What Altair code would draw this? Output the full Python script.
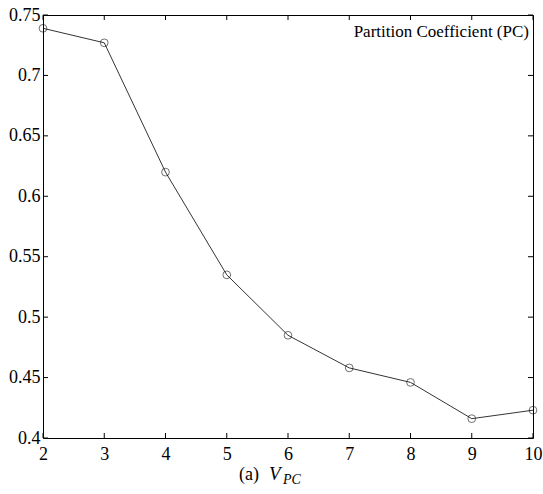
import altair as alt
import pandas as pd

clusters = [2, 3, 4, 5, 6, 7, 8, 9, 10]
pc_values = [0.739, 0.727, 0.620, 0.535, 0.485, 0.458, 0.446, 0.416, 0.423]
x_ticks = [2, 3, 4, 5, 6, 7, 8, 9, 10]
y_ticks = [0.4, 0.45, 0.5, 0.55, 0.6, 0.65, 0.7, 0.75]

W, H = 490, 423
FONT = "Times New Roman"

df = pd.DataFrame({"c": clusters, "pc": pc_values})
xt = pd.DataFrame({"t": x_ticks})
yt = pd.DataFrame({"t": y_ticks})

xs = alt.Scale(domain=[2, 10], nice=False)
ys = alt.Scale(domain=[0.4, 0.75], nice=False)

base = alt.Chart(df).encode(
    x=alt.X("c:Q", scale=xs,
            axis=alt.Axis(values=x_ticks, title=None, ticks=False, domain=False, grid=False,
                          format="d", labelFont=FONT, labelFontSize=18, labelColor="black",
                          labelFlush=False, labelPadding=7, labelOverlap=False)),
    y=alt.Y("pc:Q", scale=ys,
            axis=alt.Axis(values=y_ticks, title=None, ticks=False, domain=False, grid=False,
                          format="~g", labelFont=FONT, labelFontSize=18, labelColor="black",
                          labelFlush=False, labelPadding=3, labelOverlap=False)),
)
line = base.mark_line(color="black", strokeWidth=0.8)
pts = base.mark_point(shape="circle", size=60, color="black", filled=False, strokeWidth=0.8)

tick_len = 5
xb = alt.Chart(xt).mark_rule(color="black", strokeWidth=1).encode(
    x=alt.X("t:Q", scale=xs), y=alt.value(H), y2=alt.value(H - tick_len))
xtop = alt.Chart(xt).mark_rule(color="black", strokeWidth=1).encode(
    x=alt.X("t:Q", scale=xs), y=alt.value(0), y2=alt.value(tick_len))
yl = alt.Chart(yt).mark_rule(color="black", strokeWidth=1).encode(
    y=alt.Y("t:Q", scale=ys), x=alt.value(0), x2=alt.value(tick_len))
yr = alt.Chart(yt).mark_rule(color="black", strokeWidth=1).encode(
    y=alt.Y("t:Q", scale=ys), x=alt.value(W), x2=alt.value(W - tick_len))

legend_txt = alt.Chart(pd.DataFrame({"s": ["Partition Coefficient (PC)"]})).mark_text(
    font=FONT, fontSize=17, align="right", baseline="alphabetic", color="black"
).encode(text="s:N", x=alt.value(W - 4), y=alt.value(22))

t1 = alt.Chart(pd.DataFrame({"s": ["(a)"]})).mark_text(
    font=FONT, fontSize=18, align="right", baseline="alphabetic", color="black"
).encode(text="s:N", x=alt.value(216), y=alt.value(H + 42))
t2 = alt.Chart(pd.DataFrame({"s": ["V"]})).mark_text(
    font=FONT, fontSize=19, fontStyle="italic", align="left", baseline="alphabetic", color="black"
).encode(text="s:N", x=alt.value(226), y=alt.value(H + 42))
t3 = alt.Chart(pd.DataFrame({"s": ["PC"]})).mark_text(
    font=FONT, fontSize=14, fontStyle="italic", align="left", baseline="alphabetic", color="black"
).encode(text="s:N", x=alt.value(240), y=alt.value(H + 46))

chart = alt.layer(line, pts, xb, xtop, yl, yr, legend_txt, t1, t2, t3).properties(
    width=W, height=H,
    background="white",
    autosize=alt.AutoSizeParams(type="none"),
    padding={"left": 43, "top": 15, "right": 10, "bottom": 56},
).configure(font=FONT).configure_view(stroke="black", strokeWidth=1).configure_axis(
    labelFont=FONT
).configure_text(font=FONT)

chart.save("out.html", embed_options={"renderer": "svg", "actions": False})
